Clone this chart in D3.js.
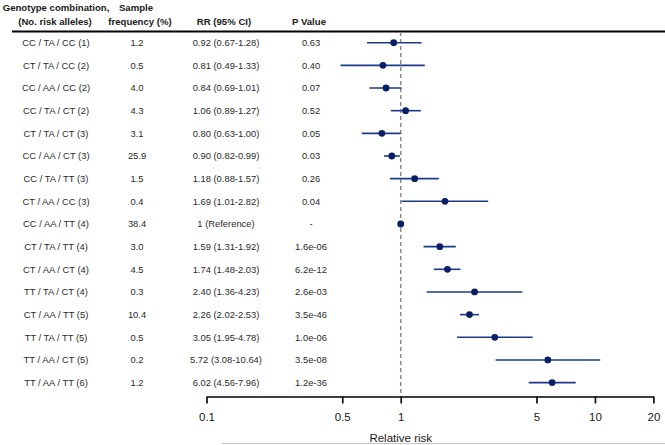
<!DOCTYPE html>
<html><head><meta charset="utf-8">
<script src="https://cdn.jsdelivr.net/npm/d3@7"></script>
<style>
body{margin:0;background:#fff;}
svg{display:block;font-family:"Liberation Sans",Arial,Helvetica,sans-serif;}
</style></head>
<body><svg id="c" width="665" height="445"></svg>
<script>
const genotypes = ["CC / TA / CC (1)","CT / TA / CC (2)","CC / AA / CC (2)","CC / TA / CT (2)","CT / TA / CT (3)","CC / AA / CT (3)","CC / TA / TT (3)","CT / AA / CC (3)","CC / AA / TT (4)","CT / TA / TT (4)","CT / AA / CT (4)","TT / TA / CT (4)","CT / AA / TT (5)","TT / TA / TT (5)","TT / AA / CT (5)","TT / AA / TT (6)"];
const freq = ["1.2","0.5","4.0","4.3","3.1","25.9","1.5","0.4","38.4","3.0","4.5","0.3","10.4","0.5","0.2","1.2"];
const rr = [0.92,0.81,0.84,1.06,0.80,0.90,1.18,1.69,1,1.59,1.74,2.40,2.26,3.05,5.72,6.02];
const lo = [0.67,0.49,0.69,0.89,0.63,0.82,0.88,1.01,null,1.31,1.48,1.36,2.02,1.95,3.08,4.56];
const hi = [1.28,1.33,1.01,1.27,1.00,0.99,1.57,2.82,null,1.92,2.03,4.23,2.53,4.78,10.64,7.96];
const pvals = ["0.63","0.40","0.07","0.52","0.05","0.03","0.26","0.04","-","1.6e-06","6.2e-12","2.6e-03","3.5e-46","1.0e-06","3.5e-08","1.2e-36"];
const tickVals = [0.1,0.5,1,5,10,20];
const refLabel = "1 (Reference)";

const svg = d3.select("#c");
const x = d3.scaleLog().domain([0.1,20]).range([206.5,653.4]);
const y = d3.scalePoint().domain(d3.range(genotypes.length)).range([42.7,382.6]);
const axisY = 396.5;
const txt = "#1a1a1a";

// headers
const hdr = svg.append("g").attr("font-weight","bold").attr("font-size","9.6px").attr("fill",txt).attr("text-anchor","middle");
hdr.append("text").attr("x",56).attr("y",11).text("Genotype combination,");
hdr.append("text").attr("x",55).attr("y",24.5).text("(No. risk alleles)");
hdr.append("text").attr("x",136).attr("y",11).text("Sample");
hdr.append("text").attr("x",140).attr("y",24.5).text("frequency (%)");
hdr.append("text").attr("x",224).attr("y",24.5).text("RR (95% CI)");
hdr.append("text").attr("x",309).attr("y",24.5).text("P Value");

svg.append("line").attr("x1",12).attr("x2",665).attr("y1",31.5).attr("y2",31.5).attr("stroke","#000").attr("stroke-width",1.8);

// table rows
const rows = svg.append("g").attr("font-size","9.4px").attr("fill","#2a2a2a").attr("text-anchor","middle");
genotypes.forEach((g,i)=>{
  const yy = y(i)+3.3;
  rows.append("text").attr("x",56).attr("y",yy).text(g);
  rows.append("text").attr("x",137).attr("y",yy).text(freq[i]);
  const lab = lo[i]==null ? refLabel : `${rr[i].toFixed(2)} (${lo[i].toFixed(2)}-${hi[i].toFixed(2)})`;
  rows.append("text").attr("x",226).attr("y",yy).text(lab);
  rows.append("text").attr("x",311).attr("y",yy).text(pvals[i]);
});

// reference dashed line
svg.append("line").attr("x1",x(1)).attr("x2",x(1)).attr("y1",32).attr("y2",axisY)
  .attr("stroke","#8a8a8a").attr("stroke-width",1.5).attr("stroke-dasharray","4,3");

// CI lines
const idx = d3.range(genotypes.length).filter(i=>lo[i]!=null);
svg.append("g").selectAll("line").data(idx).join("line")
  .attr("x1",i=>x(lo[i])).attr("x2",i=>x(hi[i])).attr("y1",i=>y(i)).attr("y2",i=>y(i))
  .attr("stroke","#1d3a8a").attr("stroke-width",1.6);
svg.append("g").selectAll("circle").data(d3.range(genotypes.length)).join("circle")
  .attr("cx",i=>x(rr[i])).attr("cy",i=>y(i)).attr("r",3.4).attr("fill","#0b1f66");

// axis
const ax = svg.append("g").attr("transform",`translate(0,${axisY})`)
  .call(d3.axisBottom(x).tickValues(tickVals).tickFormat(d=>String(d)).tickSize(7).tickSizeOuter(0).tickPadding(9));
ax.select(".domain").attr("stroke","#000").attr("stroke-width",1.6);
ax.selectAll(".tick line").attr("stroke","#000").attr("stroke-width",1.6);
ax.selectAll(".tick text").attr("font-size","11.5px").attr("fill",txt).attr("font-family","Liberation Sans, Arial, sans-serif");

svg.append("text").attr("x",x(1)).attr("y",442).attr("text-anchor","middle").attr("font-size","11.5px").attr("fill",txt).text("Relative risk");
svg.append("line").attr("x1",222).attr("x2",665).attr("y1",443.5).attr("y2",443.5).attr("stroke","#c8c8c8").attr("stroke-width",1);
</script></body></html>
